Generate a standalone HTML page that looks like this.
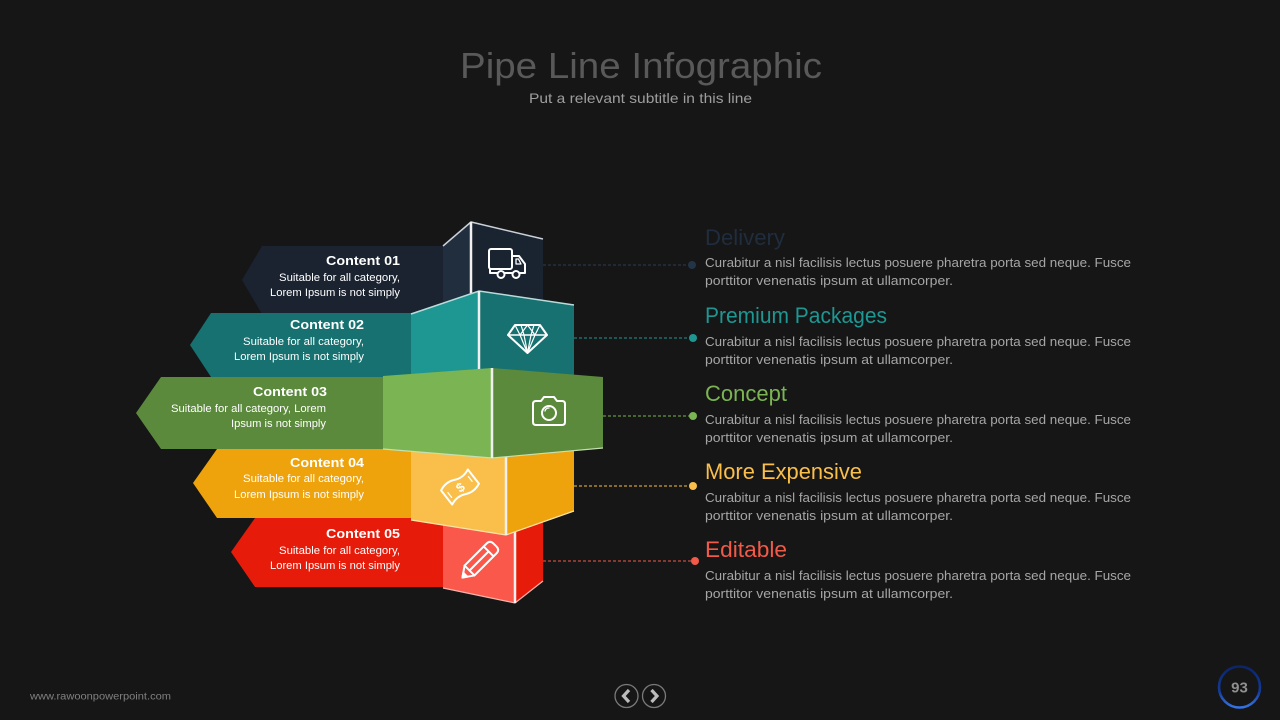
<!DOCTYPE html>
<html>
<head>
<meta charset="utf-8">
<style>
html,body{margin:0;padding:0;background:#161616;}
svg{display:block;}
text{font-family:"Liberation Sans",sans-serif;}
</style>
</head>
<body>
<svg width="1280" height="720" viewBox="0 0 1280 720" xmlns="http://www.w3.org/2000/svg">
<defs>
<linearGradient id="pg" x1="0" y1="0" x2="0" y2="1">
<stop offset="0" stop-color="#0c2566"/>
<stop offset="0.6" stop-color="#143a9a"/>
<stop offset="1" stop-color="#3474e6"/>
</linearGradient>
</defs>
<rect width="1280" height="720" fill="#161616"/>

<!-- Title -->
<text x="460" y="78" font-size="36" fill="#595959" textLength="362" lengthAdjust="spacingAndGlyphs">Pipe Line Infographic</text>
<text x="529" y="103" font-size="14" fill="#9e9e9e" textLength="223" lengthAdjust="spacingAndGlyphs">Put a relevant subtitle in this line</text>

<!-- ===== Row 1 navy ===== -->
<polygon points="443,246 262,246 242,280 262,314 443,314" fill="#1b2330"/>
<polygon points="443,246 471,222 471,310 443,314" fill="#202e3e"/>
<polygon points="471,222 543,239 543,305 471,305" fill="#1a2330"/>
<polyline points="443,246 471,222 543,239" fill="none" stroke="#c9d0d8" stroke-width="1.5"/>
<line x1="471" y1="222" x2="471" y2="300" stroke="#f0f0f0" stroke-width="2.5"/>

<!-- ===== Row 2 teal ===== -->
<polygon points="411,313 211,313 190,345 211,377 411,377" fill="#167170"/>
<polygon points="411,314 479,291 479,374 411,377" fill="#1e9793"/>
<polygon points="479,291 574,305 574,377 479,374" fill="#167170"/>
<polyline points="411,314 479,291 574,305" fill="none" stroke="#b9dcdb" stroke-width="1.5"/>
<line x1="479" y1="291" x2="479" y2="372" stroke="#f0f0f0" stroke-width="2.5"/>

<!-- ===== Row 5 red ===== -->
<polygon points="443,518 255,518 231,552 255,587 443,587" fill="#e61b0a"/>
<polygon points="443,515 515,515 515,603 443,588" fill="#f9584a"/>
<polygon points="515,515 543,515 543,581 515,603" fill="#e61b0a"/>
<polyline points="443,588 515,603 543,581" fill="none" stroke="#fbb3ab" stroke-width="1.2"/>
<line x1="515" y1="525" x2="515" y2="603" stroke="#f0f0f0" stroke-width="2.5"/>

<!-- ===== Row 4 orange ===== -->
<polygon points="411,449 217,449 193,483 217,518 411,518" fill="#eea30c"/>
<polygon points="411,448 506,448 506,535 411,520" fill="#f9bf4a"/>
<polygon points="506,448 574,448 574,511 506,535" fill="#eea30c"/>
<polyline points="411,520 506,535 574,511" fill="none" stroke="#fde3a8" stroke-width="1.2"/>
<line x1="506" y1="452" x2="506" y2="535" stroke="#f0f0f0" stroke-width="2.5"/>

<!-- ===== Row 3 green ===== -->
<polygon points="383,377 161,377 136,413 161,449 383,449" fill="#5b8a3c"/>
<polygon points="383,376 492,368 492,458 383,449" fill="#7bb553"/>
<polygon points="492,368 603,377 603,448 492,458" fill="#5b8a3c"/>
<polyline points="383,449 492,458 603,448" fill="none" stroke="#c4e0b0" stroke-width="1.2"/>
<line x1="492" y1="368" x2="492" y2="458" stroke="#f0f0f0" stroke-width="2.5"/>

<!-- Arrow texts -->
<g fill="#ffffff">
<text x="326" y="265" font-size="13" font-weight="bold" textLength="74" lengthAdjust="spacingAndGlyphs">Content 01</text>
<text x="279" y="281" font-size="11" textLength="121" lengthAdjust="spacingAndGlyphs">Suitable for all category,</text>
<text x="270" y="296" font-size="11" textLength="130" lengthAdjust="spacingAndGlyphs">Lorem Ipsum is not simply</text>

<text x="290" y="329" font-size="13" font-weight="bold" textLength="74" lengthAdjust="spacingAndGlyphs">Content 02</text>
<text x="243" y="345" font-size="11" textLength="121" lengthAdjust="spacingAndGlyphs">Suitable for all category,</text>
<text x="234" y="360" font-size="11" textLength="130" lengthAdjust="spacingAndGlyphs">Lorem Ipsum is not simply</text>

<text x="253" y="396" font-size="13" font-weight="bold" textLength="74" lengthAdjust="spacingAndGlyphs">Content 03</text>
<text x="171" y="412" font-size="11" textLength="155" lengthAdjust="spacingAndGlyphs">Suitable for all category, Lorem</text>
<text x="231" y="427" font-size="11" textLength="95" lengthAdjust="spacingAndGlyphs">Ipsum is not simply</text>

<text x="290" y="467" font-size="13" font-weight="bold" textLength="74" lengthAdjust="spacingAndGlyphs">Content 04</text>
<text x="243" y="482" font-size="11" textLength="121" lengthAdjust="spacingAndGlyphs">Suitable for all category,</text>
<text x="234" y="498" font-size="11" textLength="130" lengthAdjust="spacingAndGlyphs">Lorem Ipsum is not simply</text>

<text x="326" y="538" font-size="13" font-weight="bold" textLength="74" lengthAdjust="spacingAndGlyphs">Content 05</text>
<text x="279" y="554" font-size="11" textLength="121" lengthAdjust="spacingAndGlyphs">Suitable for all category,</text>
<text x="270" y="569" font-size="11" textLength="130" lengthAdjust="spacingAndGlyphs">Lorem Ipsum is not simply</text>
</g>

<!-- Icons -->
<g fill="none" stroke="#ffffff" stroke-width="2" stroke-linejoin="round" stroke-linecap="round">
  <!-- truck -->
  <rect x="489" y="249" width="23" height="20" rx="2"/>
  <path d="M512 256 H519 L525 264 V273 H520"/>
  <path d="M516 259 H518.5 L521 264 H516 Z" stroke-width="1.3"/>
  <path d="M490 269 V273 H497 M505 273 H512"/>
  <circle cx="501" cy="274.5" r="3.5"/>
  <circle cx="516" cy="274.5" r="3.5"/>
  <!-- diamond -->
  <path d="M508 335 L515 325 H540 L547 335 L527.5 353 Z"/>
  <path d="M508 335 H547" stroke-width="1.5"/>
  <path d="M515 325 L520 335 L527.5 353 L535 335 L540 325 M521 325 L524 335 L527.5 353 L531 335 L534 325 M520 335 L527.5 325 L535 335" stroke-width="1.2"/>
  <!-- camera -->
  <path d="M536 401 H541 L544 397 H554 L557 401 H562 Q565 401 565 404 V422 Q565 425 562 425 H536 Q533 425 533 422 V404 Q533 401 536 401 Z"/>
  <circle cx="549" cy="413" r="7"/>
  <path d="M545 411 A4 4 0 0 1 549 408" stroke-width="1.3"/>
  <!-- money -->
  <g transform="translate(460,487) rotate(-38)">
    <path d="M-17 -9 Q-8 -13 0 -9 Q8 -5 17 -9 V9 Q8 13 0 9 Q-8 5 -17 9 Z"/>
    <path d="M-13 -3 V3 M13 -3 V3" stroke-width="1.3"/>
  </g>
  <!-- pencil -->
  <g transform="translate(478,562) rotate(-45)">
    <path d="M-22 0 L-12 -7 H19 Q24 -7 24 -2 V2 Q24 7 19 7 H-12 Z"/>
    <path d="M-12 -7 V7 M15 -7 V7 M-12 0 H15"/>
    <path d="M-22 0 L-18 -2.8 V2.8 Z" fill="#ffffff"/>
  </g>
</g>
<text x="460" y="492" font-size="13" font-weight="bold" fill="#ffffff" text-anchor="middle" transform="rotate(-38 460 487)">$</text>

<!-- Connectors -->
<g stroke-width="1" stroke-dasharray="3,2" fill="none">
  <line x1="543" y1="265" x2="692" y2="265" stroke="#2c3d52"/>
  <line x1="574" y1="338" x2="693" y2="338" stroke="#1e9793"/>
  <line x1="603" y1="416" x2="693" y2="416" stroke="#7bb553"/>
  <line x1="574" y1="486" x2="693" y2="486" stroke="#f9bf4a"/>
  <line x1="543" y1="561" x2="695" y2="561" stroke="#f15a48"/>
</g>
<circle cx="692" cy="265" r="4" fill="#243447"/>
<circle cx="693" cy="338" r="4" fill="#1e9793"/>
<circle cx="693" cy="416" r="4" fill="#7bb553"/>
<circle cx="693" cy="486" r="4" fill="#f9bf4a"/>
<circle cx="695" cy="561" r="4" fill="#f15a48"/>

<!-- Right text -->
<g font-size="22">
<text x="705" y="245" fill="#1f2d3e" textLength="80" lengthAdjust="spacingAndGlyphs">Delivery</text>
<text x="705" y="323" fill="#1e9793" textLength="182" lengthAdjust="spacingAndGlyphs">Premium Packages</text>
<text x="705" y="401" fill="#7bb553" textLength="82" lengthAdjust="spacingAndGlyphs">Concept</text>
<text x="705" y="479" fill="#f9bf4a" textLength="157" lengthAdjust="spacingAndGlyphs">More Expensive</text>
<text x="705" y="557" fill="#f15a48" textLength="82" lengthAdjust="spacingAndGlyphs">Editable</text>
</g>
<g font-size="13" fill="#a6a6a6">
<text x="705" y="267" textLength="426" lengthAdjust="spacingAndGlyphs">Curabitur a nisl facilisis lectus posuere pharetra porta sed neque. Fusce</text>
<text x="705" y="285" textLength="248" lengthAdjust="spacingAndGlyphs">porttitor venenatis ipsum at ullamcorper.</text>
<text x="705" y="346" textLength="426" lengthAdjust="spacingAndGlyphs">Curabitur a nisl facilisis lectus posuere pharetra porta sed neque. Fusce</text>
<text x="705" y="364" textLength="248" lengthAdjust="spacingAndGlyphs">porttitor venenatis ipsum at ullamcorper.</text>
<text x="705" y="424" textLength="426" lengthAdjust="spacingAndGlyphs">Curabitur a nisl facilisis lectus posuere pharetra porta sed neque. Fusce</text>
<text x="705" y="442" textLength="248" lengthAdjust="spacingAndGlyphs">porttitor venenatis ipsum at ullamcorper.</text>
<text x="705" y="502" textLength="426" lengthAdjust="spacingAndGlyphs">Curabitur a nisl facilisis lectus posuere pharetra porta sed neque. Fusce</text>
<text x="705" y="520" textLength="248" lengthAdjust="spacingAndGlyphs">porttitor venenatis ipsum at ullamcorper.</text>
<text x="705" y="580" textLength="426" lengthAdjust="spacingAndGlyphs">Curabitur a nisl facilisis lectus posuere pharetra porta sed neque. Fusce</text>
<text x="705" y="598" textLength="248" lengthAdjust="spacingAndGlyphs">porttitor venenatis ipsum at ullamcorper.</text>
</g>

<!-- Footer -->
<text x="30" y="699.5" font-size="10" fill="#808080" textLength="141" lengthAdjust="spacingAndGlyphs">www.rawoonpowerpoint.com</text>
<circle cx="626.5" cy="696" r="11.5" fill="none" stroke="#7a7a7a" stroke-width="1.3"/>
<circle cx="654" cy="696" r="11.5" fill="none" stroke="#7a7a7a" stroke-width="1.3"/>
<path d="M629 690 L623.5 696 L629 702" fill="none" stroke="#bdbdbd" stroke-width="3.2"/>
<path d="M651.5 690 L657 696 L651.5 702" fill="none" stroke="#bdbdbd" stroke-width="3.2"/>
<circle cx="1239.5" cy="687" r="20.5" fill="none" stroke="url(#pg)" stroke-width="2.6"/>
<text x="1239.5" y="692.5" font-size="15" font-weight="bold" fill="#8f8f8f" text-anchor="middle">93</text>
</svg>
</body>
</html>
